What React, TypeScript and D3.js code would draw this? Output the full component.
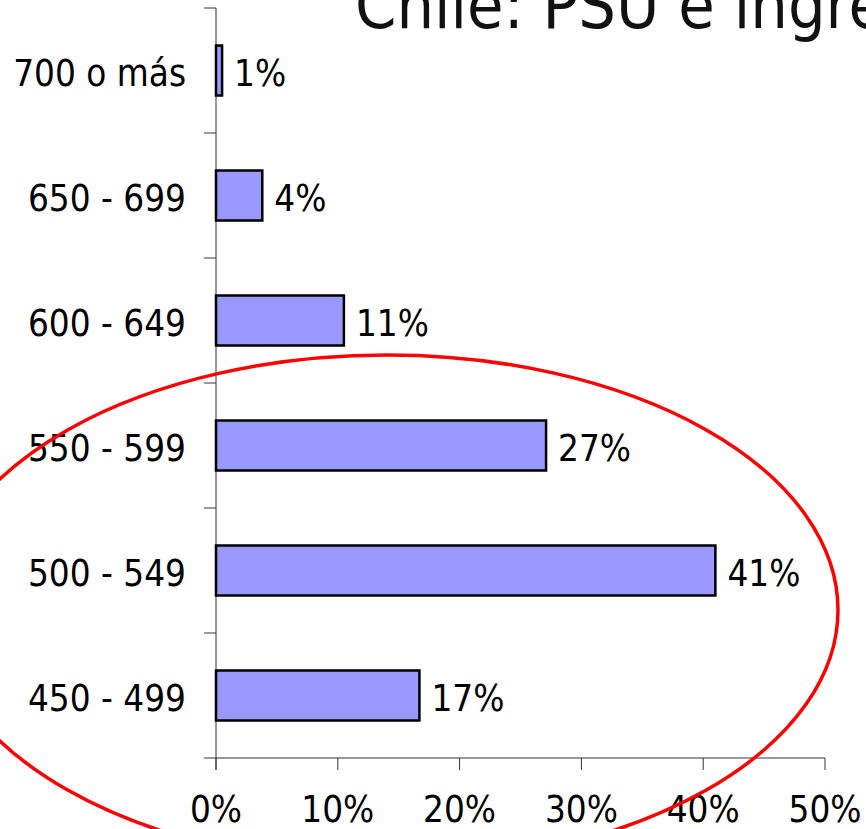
import { useEffect, useRef } from "react";
import * as d3 from "d3";

const categories = ["700 o más", "650 - 699", "600 - 649", "550 - 599", "500 - 549", "450 - 499"];
const shares = [0.5, 3.8, 10.5, 27.1, 41.0, 16.7];
const shareLabels = ["1%", "4%", "11%", "27%", "41%", "17%"];
const xTicks = [0, 10, 20, 30, 40, 50];
const title = "Chile: PSU e ingreso";

export default function App() {
  const svgRef = useRef<SVGSVGElement | null>(null);

  useEffect(() => {
    if (!svgRef.current) return;

    const width = 866;
    const height = 829;
    const font = "'DejaVu Sans Condensed', 'DejaVu Sans', Tahoma, sans-serif";
    const fs = 36.5;

    const svg = d3.select(svgRef.current);
    svg.selectAll("*").remove();
    svg.attr("width", width).attr("height", height);

    const x = d3.scaleLinear().domain([0, 50]).range([216, 825]);
    const y = d3.scaleBand<string>().domain(categories).range([8, 758]).paddingInner(0.6).paddingOuter(0.3);

    // title, cut off by the top and right edges like in the slide
    svg.append("text")
      .attr("x", 355)
      .attr("y", 28)
      .attr("font-family", font)
      .attr("font-size", 66)
      .attr("fill", "#111")
      .text(title);

    const axisColor = "#333";

    // category axis + band ticks
    svg.append("line")
      .attr("x1", x(0)).attr("x2", x(0))
      .attr("y1", 8).attr("y2", 770)
      .attr("stroke", axisColor);

    const step = y.step();
    const bounds = d3.range(categories.length + 1).map(i => 8 + i * step);
    svg.selectAll("line.ytick")
      .data(bounds)
      .join("line")
      .attr("class", "ytick")
      .attr("x1", x(0) - 12).attr("x2", x(0))
      .attr("y1", d => d).attr("y2", d => d)
      .attr("stroke", axisColor);

    // value axis
    svg.append("line")
      .attr("x1", x(0)).attr("x2", x(50))
      .attr("y1", 758).attr("y2", 758)
      .attr("stroke", axisColor);

    svg.selectAll("line.xtick")
      .data(xTicks)
      .join("line")
      .attr("class", "xtick")
      .attr("x1", d => x(d)).attr("x2", d => x(d))
      .attr("y1", 758).attr("y2", 770)
      .attr("stroke", axisColor);

    svg.selectAll("text.xlabel")
      .data(xTicks)
      .join("text")
      .attr("class", "xlabel")
      .attr("x", d => x(d))
      .attr("y", 822)
      .attr("text-anchor", "middle")
      .attr("font-family", font)
      .attr("font-size", fs)
      .attr("fill", "#000")
      .text(d => `${d}%`);

    svg.selectAll("text.ylabel")
      .data(categories)
      .join("text")
      .attr("class", "ylabel")
      .attr("x", 186)
      .attr("y", d => (y(d) ?? 0) + y.bandwidth() / 2 + 2)
      .attr("dy", "0.36em")
      .attr("text-anchor", "end")
      .attr("font-family", font)
      .attr("font-size", fs)
      .attr("fill", "#000")
      .text(d => d);

    svg.selectAll("rect.bar")
      .data(shares)
      .join("rect")
      .attr("class", "bar")
      .attr("x", x(0))
      .attr("y", (_, i) => y(categories[i]) ?? 0)
      .attr("width", d => x(d) - x(0))
      .attr("height", y.bandwidth())
      .attr("fill", "#9999ff")
      .attr("stroke", "#000")
      .attr("stroke-width", 2.5);

    svg.selectAll("text.value")
      .data(shares)
      .join("text")
      .attr("class", "value")
      .attr("x", d => x(d) + 12)
      .attr("y", (_, i) => (y(categories[i]) ?? 0) + y.bandwidth() / 2 + 2)
      .attr("dy", "0.36em")
      .attr("font-family", font)
      .attr("font-size", fs)
      .attr("fill", "#000")
      .text((_, i) => shareLabels[i]);

    // red hand-drawn highlight around the lower ranges
    svg.append("ellipse")
      .attr("cx", 387)
      .attr("cy", 610)
      .attr("rx", 451)
      .attr("ry", 255)
      .attr("fill", "none")
      .attr("stroke", "#ff0000")
      .attr("stroke-width", 3.5);
  }, []);

  return <svg ref={svgRef} style={{ position: "absolute", left: 0, top: 0 }} />;
}
